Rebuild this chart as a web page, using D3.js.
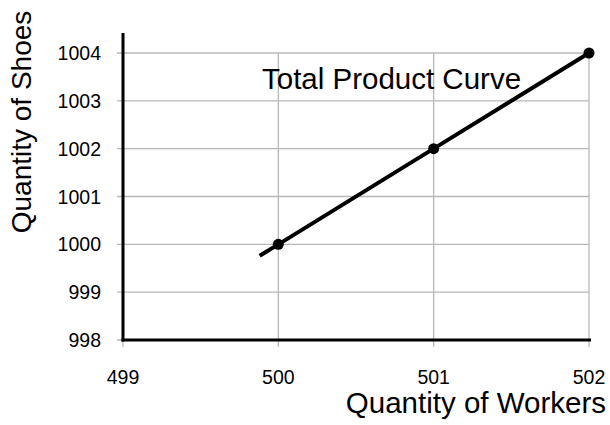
<!DOCTYPE html>
<html>
<head>
<meta charset="utf-8">
<script src="https://cdn.jsdelivr.net/npm/d3@7"></script>
<style>
  body { margin: 0; background: #fff; }
  text { font-family: "Liberation Sans", Arial, sans-serif; fill: #000; }
</style>
</head>
<body>
<svg id="chart"></svg>
<script>
// data
var workers = [500, 501, 502];
var shoes = [1000, 1002, 1004];
// the drawn line starts a little left of the first point
var lineStart = [499.88, 999.76];
var xTicks = [499, 500, 501, 502];
var yTicks = [998, 999, 1000, 1001, 1002, 1003, 1004];

var width = 610, height = 425;

var svg = d3.select("#chart")
  .attr("width", width)
  .attr("height", height);

var x = d3.scaleLinear().domain([499, 502]).range([123, 589]);
var y = d3.scaleLinear().domain([998, 1004]).range([340, 53]);

// gridlines
svg.selectAll(".hgrid")
  .data(yTicks)
  .enter().append("line")
  .attr("x1", x(499) - 6)
  .attr("x2", x(502))
  .attr("y1", d => y(d))
  .attr("y2", d => y(d))
  .attr("stroke", "#b8b8b8")
  .attr("stroke-width", 1.3);

svg.selectAll(".vgrid")
  .data(xTicks)
  .enter().append("line")
  .attr("x1", d => x(d))
  .attr("x2", d => x(d))
  .attr("y1", d => d === 499 ? y(998) : y(1004))
  .attr("y2", y(998) + 7)
  .attr("stroke", "#b8b8b8")
  .attr("stroke-width", 1.3);

// axes lines
svg.append("line")
  .attr("x1", x(499)).attr("x2", x(499))
  .attr("y1", y(1004) - 20).attr("y2", y(998) + 1.5)
  .attr("stroke", "#000").attr("stroke-width", 3);

svg.append("line")
  .attr("x1", x(499) - 1.5).attr("x2", x(502) + 2)
  .attr("y1", y(998)).attr("y2", y(998))
  .attr("stroke", "#000").attr("stroke-width", 3);

// tick labels
svg.selectAll(".ylab")
  .data(yTicks)
  .enter().append("text")
  .attr("x", 101)
  .attr("y", d => y(d) + 7)
  .attr("text-anchor", "end")
  .style("font-size", "19.5px")
  .text(d => d);

svg.selectAll(".xlab")
  .data(xTicks)
  .enter().append("text")
  .attr("x", d => x(d))
  .attr("y", 384)
  .attr("text-anchor", "middle")
  .style("font-size", "19.5px")
  .text(d => d);

// curve
var pts = [lineStart].concat(workers.map((w, i) => [w, shoes[i]]));
var line = d3.line().x(d => x(d[0])).y(d => y(d[1]));

svg.append("path")
  .datum(pts)
  .attr("d", line)
  .attr("fill", "none")
  .attr("stroke", "#000")
  .attr("stroke-width", 4);

svg.selectAll(".pt")
  .data(workers)
  .enter().append("circle")
  .attr("cx", d => x(d))
  .attr("cy", (d, i) => y(shoes[i]))
  .attr("r", 5.5)
  .attr("fill", "#000");

// labels
svg.append("text")
  .attr("x", 262)
  .attr("y", 89)
  .style("font-size", "29.5px")
  .text("Total Product Curve");

svg.append("text")
  .attr("x", 606)
  .attr("y", 413)
  .attr("text-anchor", "end")
  .style("font-size", "29.5px")
  .text("Quantity of Workers");

svg.append("text")
  .attr("transform", "translate(31,122) rotate(-90)")
  .attr("text-anchor", "middle")
  .style("font-size", "28px")
  .text("Quantity of Shoes");
</script>
</body>
</html>
